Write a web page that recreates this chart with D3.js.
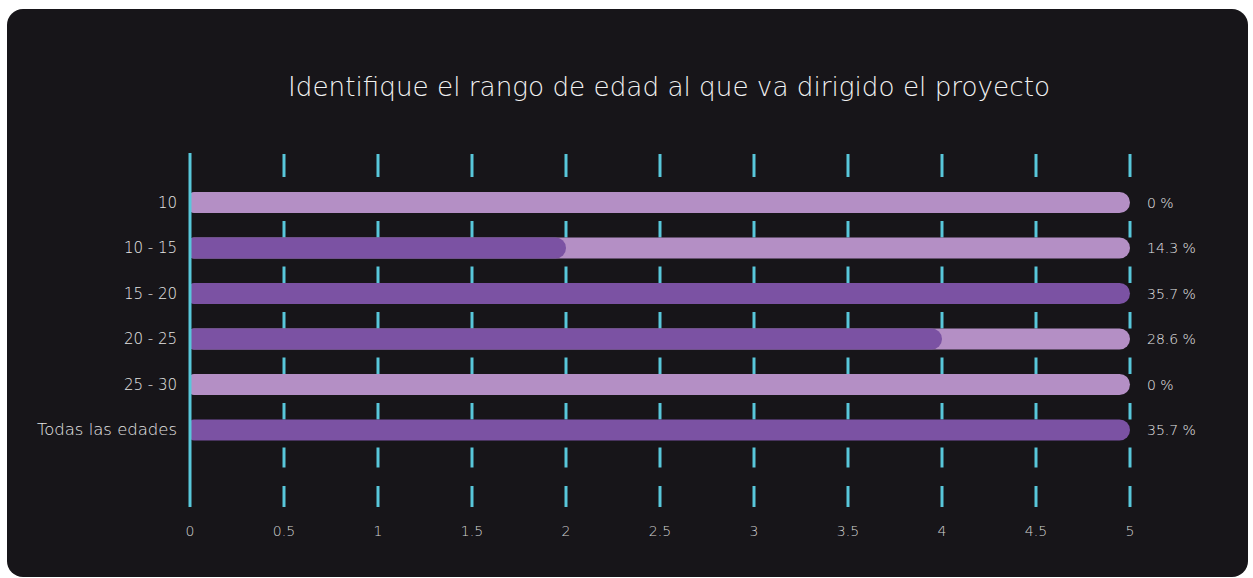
<!DOCTYPE html>
<html>
<head>
<meta charset="utf-8">
<script src="https://cdn.jsdelivr.net/npm/d3@7/dist/d3.min.js"></script>
<style>
  html, body { margin: 0; padding: 0; background: #ffffff; }
  svg { display: block; }
  text { font-family: "DejaVu Sans", "Noto Sans", sans-serif; }
</style>
</head>
<body>
<svg id="chart" width="1253" height="578"></svg>
<script>
// Survey: age range each project targets
const title = "Identifique el rango de edad al que va dirigido el proyecto";
const categories = ["10", "10 - 15", "15 - 20", "20 - 25", "25 - 30", "Todas las edades"];
const counts = [0, 2, 5, 4, 0, 5];
const totalResponses = 14;
const xTicks = [0, 0.5, 1, 1.5, 2, 2.5, 3, 3.5, 4, 4.5, 5];
const xMax = 5;

const W = 1253, H = 578;
const svg = d3.select("#chart");

const colors = {
  panel: "#171519",
  track: "#b48fc5",
  bar: "#7b52a3",
  grid: "#58c7da",
  title: "#f2f2f2",
  label: "#e6e6e6",
  tick: "#d2d2d2"
};

// panel
svg.append("rect")
  .attr("x", 7).attr("y", 9)
  .attr("width", 1241).attr("height", H - 9 - 1)
  .attr("rx", 16)
  .attr("fill", colors.panel);

// title
svg.append("text")
  .attr("x", 669).attr("y", 96)
  .attr("text-anchor", "middle")
  .attr("font-size", 26)
  .attr("font-weight", 200)
  .attr("fill", colors.title)
  .attr("textLength", 762)
  .attr("lengthAdjust", "spacingAndGlyphs")
  .text(title);

const plotTop = 154, plotBottom = 507;
const x = d3.scaleLinear().domain([0, xMax]).range([190, 1130]);
const y = d3.scalePoint().domain(categories).range([202.5, 430]);
const barH = 21;

// vertical dashed gridlines: a dash above the first bar, one in each gap, two below the last
function gridSegments() {
  const segs = [[plotTop, plotTop + 23]];
  for (let i = 0; i < categories.length - 1; i++) {
    const bottom = y(categories[i]) + barH / 2;
    const nextTop = y(categories[i + 1]) - barH / 2;
    segs.push([bottom + 8, nextTop]);
  }
  const lastBottom = y(categories[categories.length - 1]) + barH / 2;
  segs.push([lastBottom + 7, lastBottom + 27]);
  segs.push([plotBottom - 21, plotBottom]);
  return segs;
}
const segs = gridSegments();

const grid = svg.append("g");
xTicks.filter(t => t !== 0).forEach(t => {
  grid.selectAll(null)
    .data(segs)
    .enter().append("line")
    .attr("x1", x(t)).attr("x2", x(t))
    .attr("y1", d => d[0]).attr("y2", d => d[1])
    .attr("stroke", colors.grid)
    .attr("stroke-width", 3);
});

// rounded-end bar path: small radius on the left, half-height radius on the right
function barPath(x0, x1, yc, h) {
  const r = h / 2, rl = 4;
  const top = yc - h / 2, bot = yc + h / 2;
  const w = x1 - x0;
  if (w <= 0) return "";
  const rr = Math.min(r, w / 2);
  return `M${x0 + rl},${top} L${x1 - rr},${top} A${rr},${r} 0 0 1 ${x1 - rr},${bot} L${x0 + rl},${bot} Q${x0},${bot} ${x0},${bot - rl} L${x0},${top + rl} Q${x0},${top} ${x0 + rl},${top} Z`;
}

const rowData = categories.map((c, i) => ({ c, v: counts[i] }));
const rows = svg.append("g");

// background tracks at full scale (hidden where the value fills the row)
rows.selectAll("path.track")
  .data(rowData.filter(d => d.v < xMax))
  .enter().append("path")
  .attr("class", "track")
  .attr("d", d => barPath(x(0), x(xMax), y(d.c), barH))
  .attr("fill", colors.track);

// value bars
rows.selectAll("path.bar")
  .data(rowData)
  .enter().append("path")
  .attr("class", "bar")
  .attr("d", d => barPath(x(0), x(d.v), y(d.c), barH))
  .attr("fill", colors.bar);

// zero axis line
svg.append("line")
  .attr("x1", x(0)).attr("x2", x(0))
  .attr("y1", plotTop - 1).attr("y2", plotBottom)
  .attr("stroke", colors.grid)
  .attr("stroke-width", 3);

// category labels
svg.selectAll("text.cat")
  .data(categories)
  .enter().append("text")
  .attr("class", "cat")
  .attr("x", 177)
  .attr("y", c => y(c) + 5)
  .attr("text-anchor", "end")
  .attr("font-size", 15)
  .attr("font-weight", 200)
  .attr("fill", colors.label)
  .attr("textLength", c => c === "Todas las edades" ? 140 : null)
  .attr("lengthAdjust", "spacingAndGlyphs")
  .text(c => c);

// percentage labels
const fmt = d3.format(".1f");
svg.selectAll("text.pct")
  .data(rowData)
  .enter().append("text")
  .attr("class", "pct")
  .attr("x", 1147)
  .attr("y", d => y(d.c) + 5)
  .attr("font-size", 14)
  .attr("font-weight", 200)
  .attr("fill", colors.label)
  .text(d => {
    const p = d.v / totalResponses * 100;
    return (p === 0 ? "0" : fmt(p)) + " %";
  });

// x tick labels
svg.selectAll("text.xt")
  .data(xTicks)
  .enter().append("text")
  .attr("class", "xt")
  .attr("x", t => x(t))
  .attr("y", 536)
  .attr("text-anchor", "middle")
  .attr("font-size", 14)
  .attr("font-weight", 200)
  .attr("fill", colors.tick)
  .text(t => String(t));
</script>
</body>
</html>
